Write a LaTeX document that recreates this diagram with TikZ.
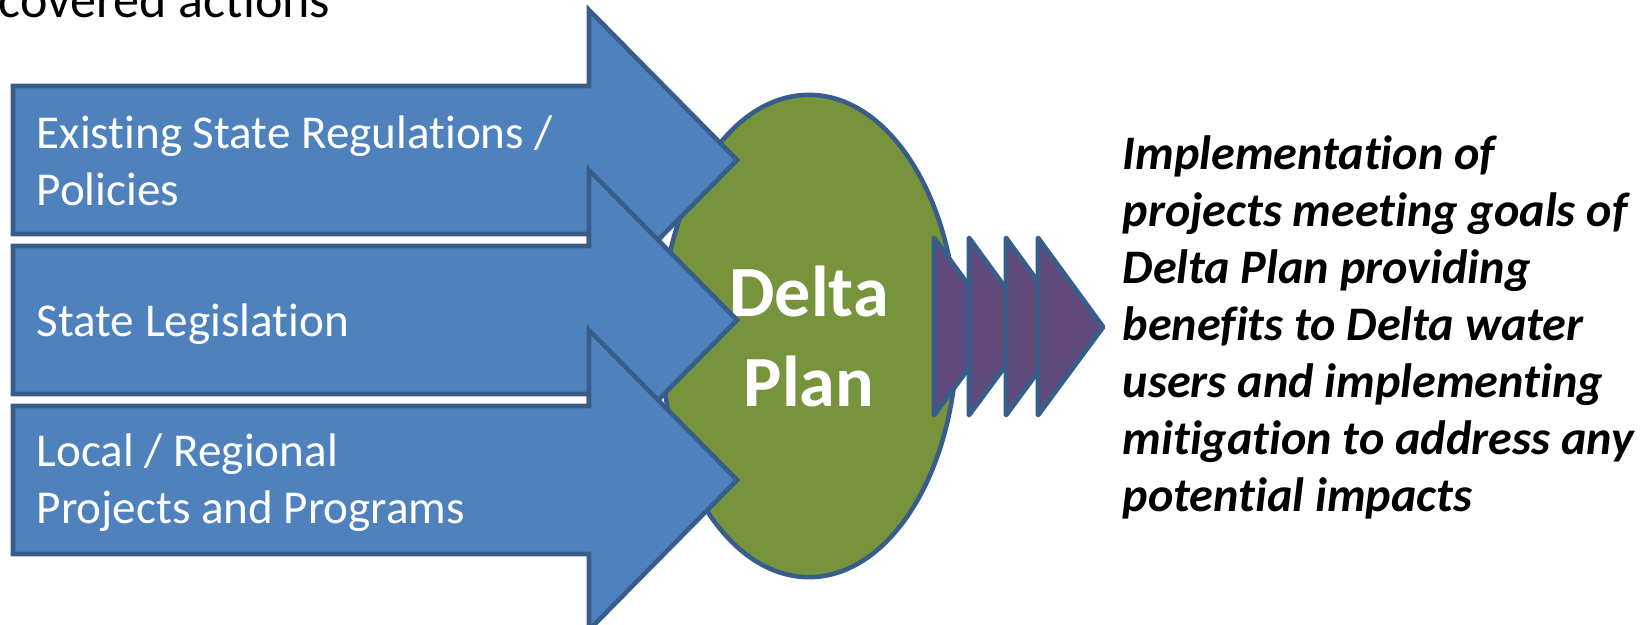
\documentclass[tikz,border=0pt]{standalone}
\usepackage{fontspec}
\setmainfont{Carlito}[Ligatures=NoCommon]
\usetikzlibrary{shapes.geometric}

\definecolor{boxblue}{HTML}{4F81BD}
\definecolor{edgeblue}{HTML}{385D8A}
\definecolor{plangreen}{HTML}{77933C}
\definecolor{chevpurple}{HTML}{604A7B}

\begin{document}
\begin{tikzpicture}[x=0.01cm, y=-0.01cm,
  inarrow/.style={draw=edgeblue, fill=boxblue, line width=1.3pt},
  chev/.style={draw=edgeblue, fill=chevpurple, line width=1.4pt, line join=round},
  plan/.style={ellipse, draw=edgeblue, fill=plangreen, line width=1.3pt, minimum width=2.96cm, minimum height=4.82cm, text=white, align=center, font=\bfseries\fontsize{20.5}{25.6}\selectfont},
  intext/.style={anchor=base west, align=left, inner sep=0pt, text=white, font=\fontsize{13.4}{16.2}\selectfont},
  outtext/.style={anchor=base west, align=left, inner sep=0pt, font=\bfseries\itshape\fontsize{13.7}{16.2}\selectfont}]
\useasboundingbox (0,0) rectangle (1642,624);
\node[anchor=base west, inner sep=0pt, font=\fontsize{14.8}{17}\selectfont] (covered) at (-2,17) {covered actions};
\node[plan] (delta) at (809,336) {Delta\\Plan};
\foreach \y in {160,320,480}
  \draw[inarrow] (13,{\y-74}) -- (589,{\y-74}) -- (589,{\y-150}) -- (737,\y) -- (589,{\y+150}) -- (589,{\y+74}) -- (13,{\y+74}) -- cycle;
\foreach \x in {934,969,1006,1038}
  \draw[chev] (\x,238) -- ({\x+65},327) -- (\x,415) -- cycle;
\node[intext] (regs) at (36,205) {Existing State Regulations /\\Policies};
\node[intext] (legis) at (36,336) {State Legislation};
\node[intext] (local) at (36,523) {Local / Regional\\Projects and Programs};
\node[outtext] (goals) at (1122,511) {Implementation of\\projects meeting goals of\\Delta Plan providing\\benefits to Delta water\\users and implementing\\mitigation to address any\\potential impacts};
\end{tikzpicture}
\end{document}
